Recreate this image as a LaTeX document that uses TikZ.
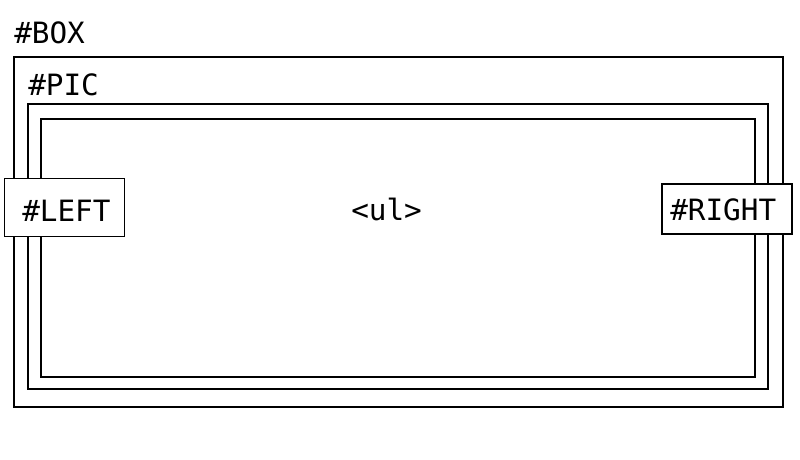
\documentclass[tikz,border=0pt]{standalone}
\usepackage{fontspec}
\setmonofont{DejaVu Sans Mono}
\begin{document}
\begin{tikzpicture}[x=0.75pt,y=-0.75pt,
  frame/.style={draw=black,line width=1.5pt},
  lbl/.style={font=\ttfamily\fontsize{22}{24}\selectfont,inner sep=0pt,anchor=base west},
  sidebox/.style={draw=black,fill=white,inner sep=0pt}]
\useasboundingbox (0,0) rectangle (800,460);
\node[lbl] (boxlbl) at (14,44) {\#BOX};
\draw[frame] (14,57) rectangle (783,407);
\node[lbl] (piclbl) at (28,95) {\#PIC};
\draw[frame] (28,104) rectangle (768,389);
\draw[frame] (41,119) rectangle (755,377);
\node[lbl] (ul) at (351,220) {<ul>};
\node[sidebox,draw=black,line width=0.75pt,minimum width=120*0.75pt,minimum height=58*0.75pt] (left) at (64,207) {};
\node[lbl] (lefttxt) at (22,221) {\#LEFT};
\node[sidebox,line width=1.5pt,minimum width=130*0.75pt,minimum height=50*0.75pt] (right) at (727,209) {};
\node[lbl] (righttxt) at (670,220) {\#RIGHT};
\end{tikzpicture}
\end{document}
